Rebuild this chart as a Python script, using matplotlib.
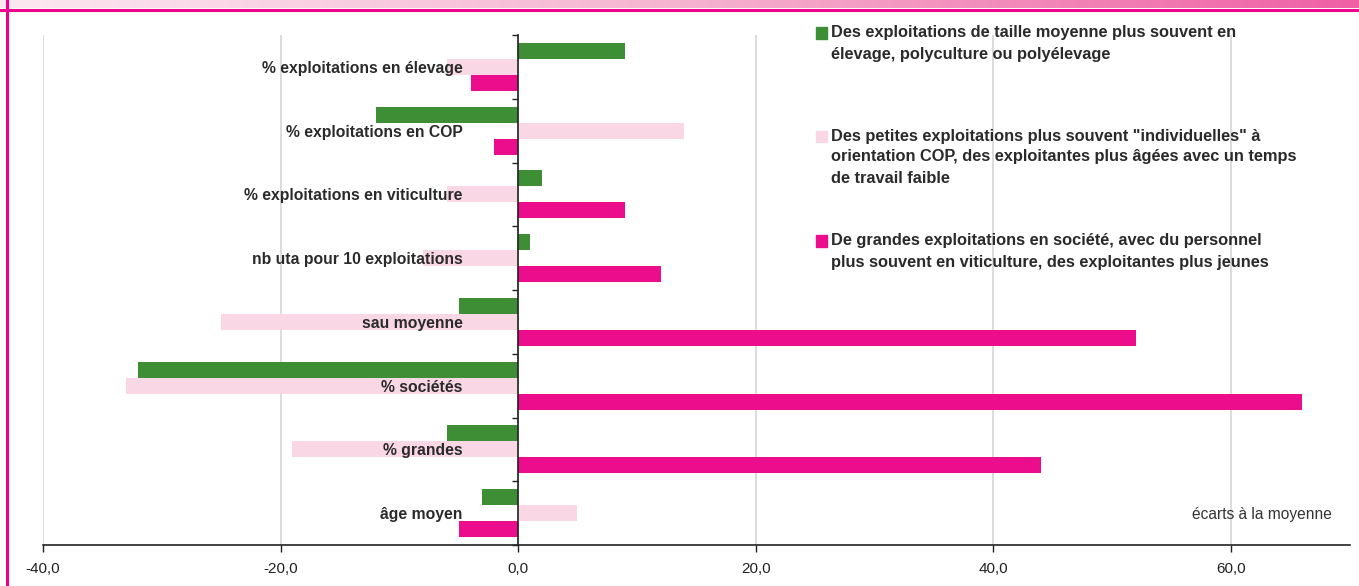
import matplotlib
matplotlib.use("Agg")
import matplotlib.pyplot as plt
import numpy as np
from matplotlib.lines import Line2D
from matplotlib.patches import Rectangle
from matplotlib.ticker import FuncFormatter
from matplotlib.colors import LinearSegmentedColormap

categories = ["% exploitations en élevage", "% exploitations en COP",
              "% exploitations en viticulture", "nb uta pour 10 exploitations",
              "sau moyenne", "% sociétés", "% grandes", "âge moyen"]
series_names = [
    "Des exploitations de taille moyenne plus souvent en\nélevage, polyculture ou polyélevage",
    "Des petites exploitations plus souvent \"individuelles\" à\norientation COP, des exploitantes plus âgées avec un temps\nde travail faible",
    "De grandes exploitations en société, avec du personnel\nplus souvent en viticulture, des exploitantes plus jeunes",
]
moyenne = [9, -12, 2, 1, -5, -32, -6, -3]
petites = [-6, 14, -6, -8, -25, -33, -19, 5]
grandes = [-4, -2, 9, 12, 52, 66, 44, -5]
x_ticks = [-40, -20, 0, 20, 40, 60]
note = "écarts à la moyenne"

colors = ["#3E8E35", "#F9D7E4", "#EC0D8C"]
plt.rcParams['font.family'] = ['Liberation Sans', 'DejaVu Sans']

W, H = 1359, 586
fig = plt.figure(figsize=(W / 100, H / 100), dpi=100)
ax = fig.add_axes([43 / W, 1 - 545 / H, (1349.5 - 43) / W, (545 - 35) / H])

y = np.arange(len(categories))
h = 0.25
for vals, off, c in zip([moyenne, petites, grandes], [-h, 0, h], colors):
    ax.barh(y + off, vals, height=h, color=c, zorder=2)

ax.set_xlim(-40, 70)
ax.set_ylim(len(categories) - 0.5, -0.5)
ax.set_xticks(x_ticks)
ax.xaxis.set_major_formatter(FuncFormatter(lambda v, p: f"{v:.1f}".replace('.', ',')))
ax.grid(axis='x', color='#D9D9D9', lw=1.3)
ax.xaxis.set_zorder(0.5)
ax.yaxis.set_zorder(3)

ax.spines['top'].set_visible(False)
ax.spines['right'].set_visible(False)
ax.spines['left'].set_position(('data', 0))
ax.spines['left'].set_zorder(3)
for s in ['left', 'bottom']:
    ax.spines[s].set_color('#222222')
    ax.spines[s].set_linewidth(1.2)
ax.spines['bottom'].set_zorder(3)

ax.set_yticks(y)
ax.set_yticklabels(categories, fontsize=11.3, fontweight='bold', color='#2A2A2A')
ax.set_yticks(np.arange(len(categories) + 1) - 0.5, minor=True)
ax.tick_params(axis='y', which='major', length=0, pad=40)
ax.tick_params(axis='y', which='minor', length=4, width=1, color='#222222', direction='out')
ax.tick_params(axis='x', length=5, width=1, color='#222222', labelsize=11, labelcolor='#222222', pad=7)

fig.text(1332 / W, 1 - 514 / H, note, ha='right', va='center',
         fontsize=11.2, color='#333333')

# legend
item_tops = [33, 136, 241]
step = 21
for name, c, yt in zip(series_names, colors, item_tops):
    fig.patches.append(Rectangle((816 / W, 1 - (yt + 5.5) / H), 11 / W, 11 / H,
                                 transform=fig.transFigure, color=c, zorder=5))
    for k, line in enumerate(name.split("\n")):
        fig.text(831 / W, 1 - (yt + k * step) / H, line, ha='left', va='center',
                 fontsize=11.8, fontweight='bold', color='#2A2A2A')

# top band + frame
band = fig.add_axes([0, 1 - 8 / H, 1, 8 / H])
grad = np.linspace(0, 1, 256)[None, :]
cmap = LinearSegmentedColormap.from_list('band', ['#FCE8F1', '#F6B3D0', '#EF60A4'])
band.imshow(grad, aspect='auto', cmap=cmap, extent=[0, 1, 0, 1])
band.axis('off')
fig.add_artist(Line2D([0, 1], [1 - 9.5 / H] * 2, transform=fig.transFigure, color='#EC008C', lw=2.2))
fig.add_artist(Line2D([6.5 / W] * 2, [0, 1], transform=fig.transFigure, color='#EC008C', lw=2.2))

fig.savefig("out.png", dpi=100)
